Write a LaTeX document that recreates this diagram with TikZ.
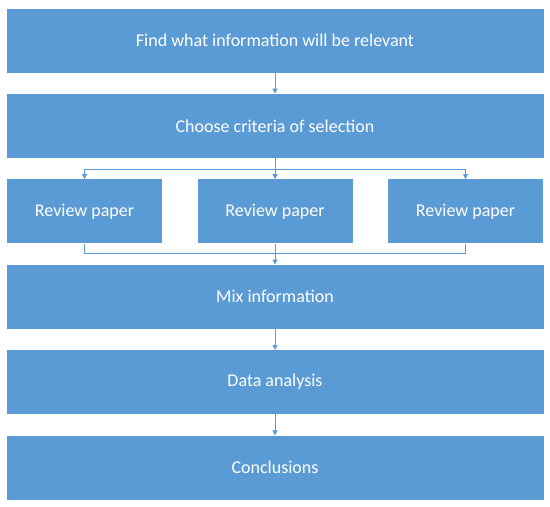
\documentclass[tikz,border=0pt]{standalone}
\usepackage{fontspec}
\setmainfont{Carlito}
\usepackage{xcolor}
\usepackage{tikz}
\usetikzlibrary{positioning, arrows.meta}

\definecolor{officeblue}{HTML}{5B9BD5}

\begin{document}
\begin{tikzpicture}[node distance=85.4pt,on grid,
    box/.style={rectangle,fill=officeblue,text=white,minimum width=537pt,minimum height=64pt,font=\fontsize{18}{21}\selectfont},
    small/.style={box,minimum width=155pt},
    link/.style={officeblue,line width=0.8pt},
    >={Triangle[width=5pt,length=5pt]}]
       \useasboundingbox (0,0) rectangle (550pt,-507pt);
       \node[box] (find) at (275pt,-40.5pt) {Find what information will be relevant};
       \node[box] (choose) [below=of find] {Choose criteria of selection};
       \node[small] (rev2) [below=of choose] {Review paper};
       \node[small] (rev1) [left=190.5pt of rev2] {Review paper};
       \node[small] (rev3) [right=190.5pt of rev2] {Review paper};
       \node[box] (mix) [below=of rev2] {Mix information};
       \node[box] (data) [below=of mix] {Data analysis};
       \node[box] (concl) [below=of data] {Conclusions};

       \coordinate[below=11pt of choose.south] (split);
       \coordinate[above=11pt of mix.north] (merge);

       \path[link,->]
       (find) edge (choose)
       (choose) edge (rev2)
       (rev2) edge (mix)
       (mix) edge (data)
       (data) edge (concl);
       \draw[link,->] (split) -| (rev1);
       \draw[link,->] (split) -| (rev3);
       \draw[link] (rev1) |- (merge);
       \draw[link] (rev3) |- (merge);
    \end{tikzpicture}
\end{document}
